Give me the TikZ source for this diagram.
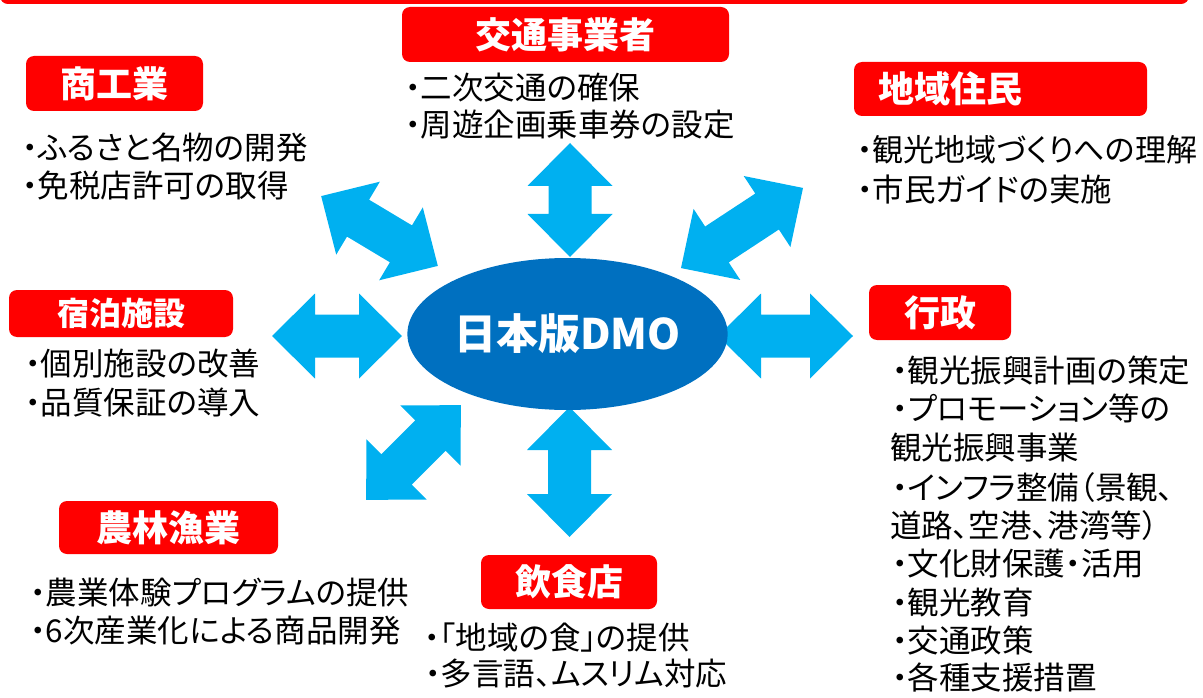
\documentclass[tikz,border=0pt]{standalone}
\usepackage{fontspec}
\setmainfont{Noto Sans CJK JP}[RawFeature=+palt]
\usetikzlibrary{shapes.geometric}
\definecolor{boxred}{HTML}{FF0000}
\definecolor{arrowblue}{HTML}{00B0F0}
\definecolor{dmoblue}{HTML}{0070C0}
\newcommand\DblArrow[4]{%
  \begin{scope}[shift={(#1,#2)}, rotate=#3]
    \fill[arrowblue] (-#4,0) -- (-#4+43,42.5) -- (-#4+43,21.5) -- (#4-43,21.5)
      -- (#4-43,42.5) -- (#4,0) -- (#4-43,-42.5) -- (#4-43,-21.5)
      -- (-#4+43,-21.5) -- (-#4+43,-42.5) -- cycle;
  \end{scope}}
\tikzset{
  titlebox/.style={fill=boxred, rounded corners=8pt, text=white, inner sep=0pt,
    font=\fontsize{36pt}{40pt}\selectfont\bfseries},
  body/.style={anchor=base west, inner sep=0pt, text=black,
    font=\fontsize{31.5pt}{38pt}\selectfont},
}
\begin{document}
\begin{tikzpicture}[x=1pt, y=-1pt]
\useasboundingbox (0,0) rectangle (1203,698);
\clip (0,0) rectangle (1203,698);
% top frame
\draw[boxred, line width=4pt, rounded corners=6pt] (2,-40) rectangle (1187,2);

% arrows
\DblArrow{570}{200}{90}{57}
\DblArrow{569.5}{472}{90}{65}
\DblArrow{337}{336}{0}{65}
\DblArrow{785.5}{336}{0}{67.5}
\DblArrow{379.5}{231}{-30.9}{68}
\DblArrow{742}{228}{33.3}{73}
\DblArrow{413.5}{452.5}{45}{67}

% centre
\node[ellipse, fill=dmoblue, minimum width=299pt, minimum height=152pt, inner sep=0pt,
  text=white, font=\fontsize{42pt}{46pt}\selectfont\bfseries] (dmo) at (567.5,334) {日本版DMO};

% title boxes
\node[titlebox, minimum width=327pt, minimum height=55pt] (kotsu) at (565.5,34.5) {交通事業者};
\node[titlebox, minimum width=177pt, minimum height=55pt] (shoko) at (114.5,83.5) {商工業};
\node[titlebox, minimum height=54pt, inner xsep=24pt, text width=245pt, align=left] (jumin) at (1000.5,89) {地域住民};
\node[titlebox, minimum width=224pt, minimum height=47pt, font=\fontsize{32pt}{36pt}\selectfont\bfseries] (shuku) at (121,313.5) {宿泊施設};
\node[titlebox, minimum width=142pt, minimum height=55pt] (gyosei) at (940,312.5) {行政};
\node[titlebox, minimum width=219pt, minimum height=53pt] (norin) at (168.5,527.5) {農林漁業};
\node[titlebox, minimum width=176pt, minimum height=54pt] (inshoku) at (569,582) {飲食店};

% bullet texts
\node[body] (k1) at (405,100) {・二次交通の確保};
\node[body] (k2) at (405,137) {・周遊企画乗車券の設定};

\node[body] (s1) at (22,160) {・ふるさと名物の開発};
\node[body] (s2) at (22,197) {・免税店許可の取得};

\node[body, font=\fontsize{31pt}{38pt}\selectfont] (j1) at (857,162) {・観光地域づくりへの理解};
\node[body] (j2) at (857,202) {・市民ガイドの実施};

\node[body] (h1) at (25,375) {・個別施設の改善};
\node[body] (h2) at (25,414) {・品質保証の導入};

\node[body] (g1) at (892,382) {・観光振興計画の策定};
\node[body] (g2) at (892,420) {・プロモーション等の};
\node[body] (g3) at (890,459) {観光振興事業};
\node[body] (g4) at (892,499) {・インフラ整備（景観、};
\node[body] (g5) at (890,537) {道路、空港、港湾等）};
\node[body] (g6) at (892,575) {・文化財保護・活用};
\node[body] (g7) at (892,614) {・観光教育};
\node[body] (g8) at (892,652) {・交通政策};
\node[body] (g9) at (892,689) {・各種支援措置};

\node[body] (n1) at (30,604) {・農業体験プログラムの提供};
\node[body] (n2) at (30,642) {・6次産業化による商品開発};

\node[body] (i1) at (424,649) {・「地域の食」の提供};
\node[body] (i2) at (425,685) {・多言語、ムスリム対応};
\end{tikzpicture}
\end{document}
